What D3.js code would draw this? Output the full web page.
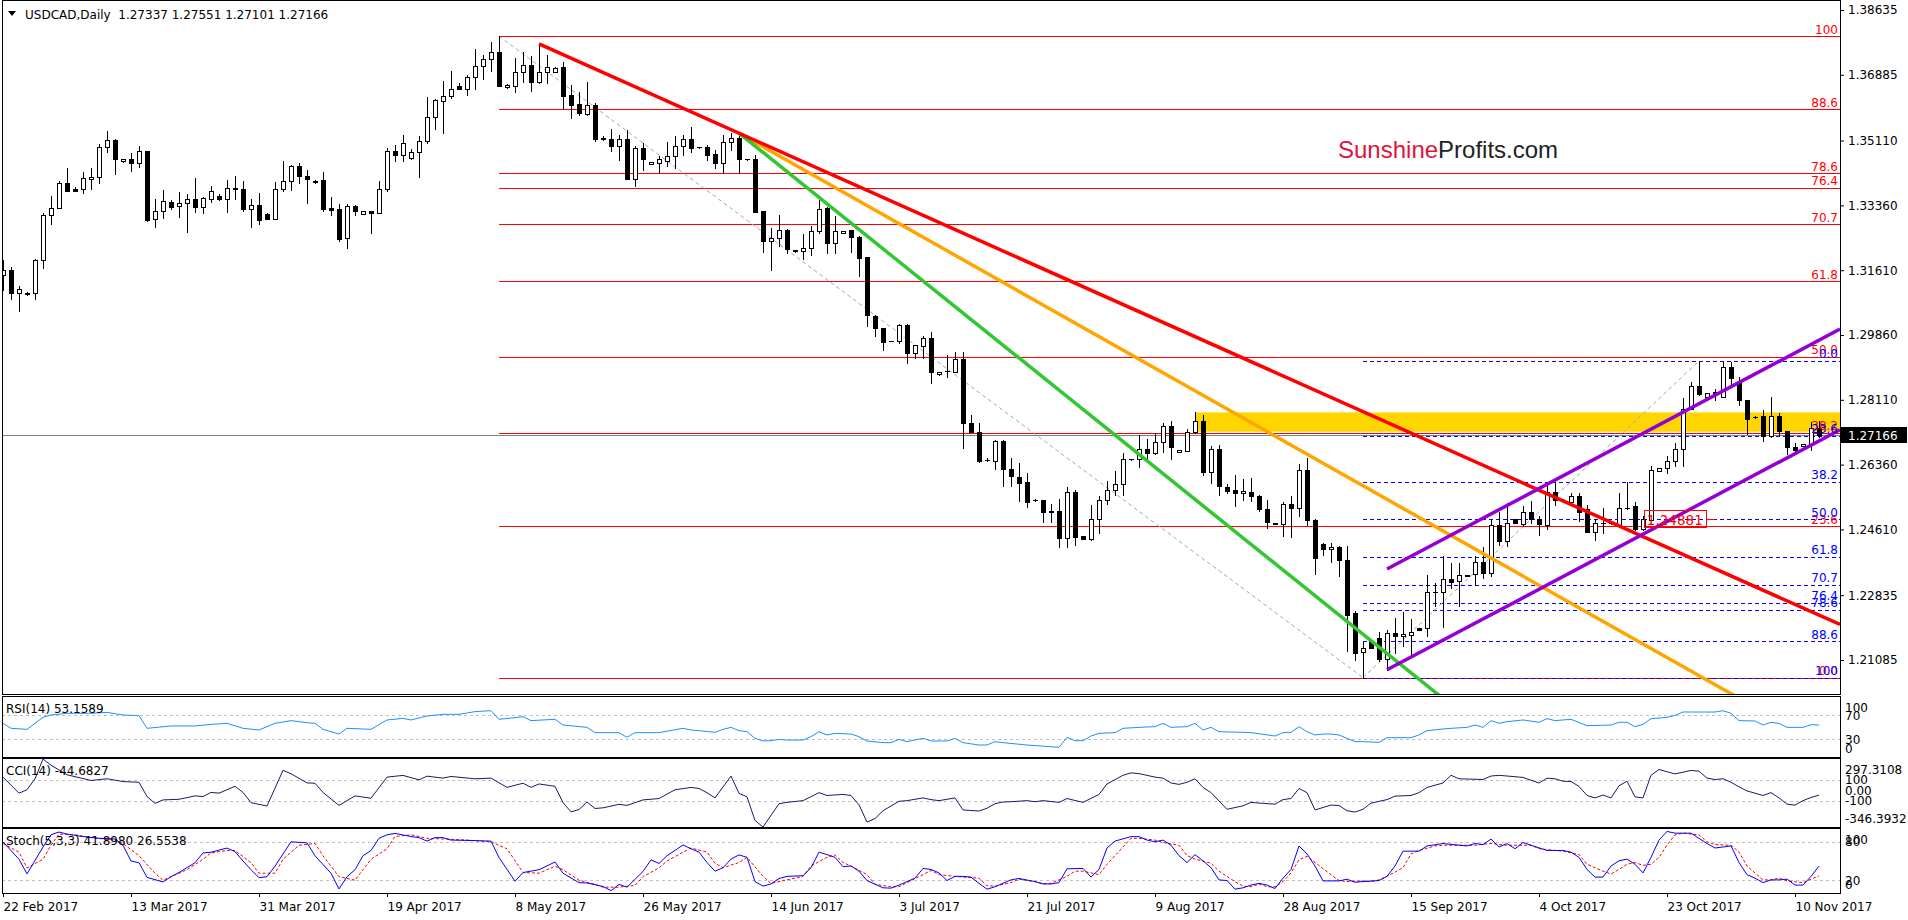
<!DOCTYPE html>
<html><head><meta charset="utf-8">
<script src="https://cdn.jsdelivr.net/npm/d3@7"></script>
<style>
html,body{margin:0;padding:0;background:#fff;overflow:hidden;}
svg{display:block;font-family:"DejaVu Sans",sans-serif;}
</style></head><body>
<svg id="c" width="1908" height="920"></svg>
<script>
// ---------- DATA ----------
const symbolTitle = "USDCAD,Daily";
const headerOHLC = ["1.27337","1.27551","1.27101","1.27166"];
// daily candles [open, high, low, close], bar 0 = 22 Feb 2017 (with Sunday bars)
const candles = [
[1.3148,1.3189,1.3107,1.3162],[1.3162,1.3169,1.3082,1.3100],[1.3100,1.3118,1.3052,1.3109],[1.3100,1.3102,1.3095,1.3097],
[1.3100,1.3191,1.3082,1.3189],[1.3189,1.3316,1.3166,1.3310],[1.3309,1.3360,1.3285,1.3328],[1.3328,1.3401,1.3328,1.3396],
[1.3396,1.3437,1.3375,1.3375],[1.3379,1.3385,1.3375,1.3375],[1.3379,1.3426,1.3370,1.3409],[1.3406,1.3437,1.3381,1.3413],
[1.3412,1.3501,1.3397,1.3493],[1.3493,1.3537,1.3481,1.3513],[1.3513,1.3516,1.3422,1.3462],[1.3455,1.3462,1.3452,1.3462],
[1.3461,1.3477,1.3430,1.3450],[1.3450,1.3496,1.3439,1.3482],[1.3482,1.3482,1.3295,1.3296],[1.3298,1.3352,1.3277,1.3322],
[1.3322,1.3377,1.3303,1.3349],[1.3344,1.3351,1.3325,1.3332],[1.3333,1.3372,1.3304,1.3342],[1.3342,1.3367,1.3263,1.3352],
[1.3352,1.3410,1.3319,1.3332],[1.3332,1.3358,1.3315,1.3356],[1.3354,1.3387,1.3346,1.3374],[1.3361,1.3367,1.3351,1.3352],
[1.3352,1.3405,1.3319,1.3382],[1.3382,1.3415,1.3353,1.3380],[1.3379,1.3401,1.3322,1.3327],[1.3327,1.3353,1.3277,1.3336],
[1.3337,1.3369,1.3285,1.3297],[1.3313,1.3316,1.3298,1.3300],[1.3300,1.3399,1.3300,1.3379],[1.3379,1.3457,1.3374,1.3401],
[1.3401,1.3444,1.3378,1.3441],[1.3441,1.3451,1.3397,1.3414],[1.3415,1.3432,1.3342,1.3408],[1.3403,1.3405,1.3397,1.3399],
[1.3404,1.3426,1.3322,1.3327],[1.3328,1.3359,1.3309,1.3324],[1.3326,1.3340,1.3240,1.3245],[1.3247,1.3340,1.3222,1.3333],
[1.3333,1.3338,1.3309,1.3322],[1.3312,1.3320,1.3312,1.3320],[1.3320,1.3320,1.3262,1.3315],[1.3315,1.3401,1.3315,1.3379],
[1.3379,1.3491,1.3374,1.3482],[1.3482,1.3498,1.3457,1.3472],[1.3472,1.3526,1.3457,1.3504],[1.3463,1.3488,1.3461,1.3479],
[1.3479,1.3523,1.3412,1.3509],[1.3509,1.3629,1.3504,1.3575],[1.3575,1.3624,1.3541,1.3621],[1.3617,1.3672,1.3531,1.3630],
[1.3630,1.3699,1.3627,1.3649],[1.3657,1.3666,1.3649,1.3649],[1.3651,1.3687,1.3635,1.3682],[1.3682,1.3758,1.3649,1.3711],
[1.3711,1.3743,1.3678,1.3730],[1.3730,1.3777,1.3700,1.3749],[1.3749,1.3793,1.3657,1.3659],[1.3655,1.3663,1.3652,1.3661],
[1.3659,1.3733,1.3643,1.3697],[1.3697,1.3751,1.3670,1.3715],[1.3715,1.3738,1.3645,1.3670],[1.3670,1.3772,1.3666,1.3697],
[1.3697,1.3741,1.3666,1.3710],[1.3697,1.3710,1.3697,1.3708],[1.3709,1.3724,1.3598,1.3632],[1.3634,1.3661,1.3573,1.3607],
[1.3609,1.3643,1.3581,1.3585],[1.3583,1.3669,1.3581,1.3606],[1.3606,1.3612,1.3511,1.3515],[1.3518,1.3522,1.3513,1.3516],
[1.3515,1.3541,1.3484,1.3496],[1.3496,1.3526,1.3459,1.3515],[1.3515,1.3540,1.3406,1.3408],[1.3406,1.3495,1.3387,1.3491],
[1.3492,1.3504,1.3432,1.3460],[1.3447,1.3452,1.3447,1.3452],[1.3450,1.3469,1.3427,1.3461],[1.3457,1.3508,1.3441,1.3468],
[1.3468,1.3523,1.3436,1.3495],[1.3495,1.3526,1.3472,1.3515],[1.3515,1.3547,1.3481,1.3492],[1.3493,1.3494,1.3492,1.3493],
[1.3494,1.3499,1.3459,1.3473],[1.3474,1.3486,1.3436,1.3451],[1.3451,1.3526,1.3424,1.3506],[1.3506,1.3531,1.3486,1.3518],
[1.3518,1.3531,1.3424,1.3462],[1.3461,1.3461,1.3459,1.3460],[1.3461,1.3472,1.3319,1.3319],[1.3321,1.3321,1.3211,1.3241],
[1.3241,1.3274,1.3161,1.3248],[1.3247,1.3310,1.3225,1.3269],[1.3270,1.3271,1.3207,1.3219],[1.3216,1.3216,1.3211,1.3214],
[1.3214,1.3259,1.3190,1.3220],[1.3220,1.3281,1.3202,1.3267],[1.3266,1.3351,1.3261,1.3325],[1.3328,1.3332,1.3207,1.3234],
[1.3234,1.3306,1.3207,1.3267],[1.3261,1.3267,1.3261,1.3267],[1.3270,1.3270,1.3211,1.3250],[1.3250,1.3253,1.3146,1.3195],
[1.3197,1.3197,1.3010,1.3039],[1.3037,1.3039,1.2984,1.3004],[1.3004,1.3004,1.2946,1.2966],[1.2971,1.2971,1.2969,1.2969],
[1.2971,1.3015,1.2964,1.3013],[1.3013,1.3015,1.2911,1.2937],[1.2937,1.2959,1.2923,1.2959],[1.2957,1.2983,1.2923,1.2977],
[1.2977,1.2995,1.2857,1.2887],[1.2881,1.2887,1.2878,1.2887],[1.2889,1.2932,1.2872,1.2889],[1.2887,1.2941,1.2887,1.2920],
[1.2920,1.2940,1.2680,1.2748],[1.2748,1.2769,1.2725,1.2725],[1.2725,1.2748,1.2642,1.2647],[1.2649,1.2653,1.2645,1.2649],
[1.2645,1.2703,1.2624,1.2700],[1.2700,1.2703,1.2579,1.2625],[1.2625,1.2653,1.2578,1.2604],[1.2602,1.2640,1.2539,1.2587],
[1.2588,1.2613,1.2521,1.2536],[1.2540,1.2542,1.2539,1.2540],[1.2540,1.2540,1.2482,1.2509],[1.2509,1.2531,1.2480,1.2510],
[1.2511,1.2542,1.2413,1.2437],[1.2437,1.2575,1.2413,1.2561],[1.2561,1.2567,1.2418,1.2440],[1.2443,1.2443,1.2434,1.2434],
[1.2434,1.2527,1.2433,1.2488],[1.2488,1.2551,1.2451,1.2540],[1.2540,1.2593,1.2531,1.2567],[1.2567,1.2620,1.2554,1.2584],
[1.2584,1.2667,1.2554,1.2650],[1.2650,1.2652,1.2649,1.2650],[1.2650,1.2716,1.2629,1.2677],[1.2677,1.2704,1.2649,1.2667],
[1.2667,1.2721,1.2665,1.2696],[1.2696,1.2748,1.2671,1.2740],[1.2740,1.2754,1.2652,1.2683],[1.2669,1.2676,1.2669,1.2676],
[1.2674,1.2731,1.2672,1.2723],[1.2723,1.2779,1.2721,1.2754],[1.2754,1.2770,1.2608,1.2617],[1.2617,1.2686,1.2587,1.2677],
[1.2677,1.2689,1.2554,1.2579],[1.2575,1.2584,1.2560,1.2566],[1.2567,1.2607,1.2524,1.2559],[1.2559,1.2596,1.2540,1.2564],
[1.2561,1.2599,1.2539,1.2552],[1.2552,1.2554,1.2512,1.2515],[1.2515,1.2540,1.2464,1.2480],[1.2478,1.2478,1.2475,1.2475],
[1.2475,1.2536,1.2442,1.2530],[1.2531,1.2551,1.2440,1.2518],[1.2518,1.2637,1.2497,1.2621],[1.2621,1.2654,1.2473,1.2487],
[1.2487,1.2488,1.2340,1.2383],[1.2422,1.2425,1.2392,1.2407],[1.2407,1.2425,1.2374,1.2413],[1.2413,1.2416,1.2334,1.2379],
[1.2379,1.2415,1.2134,1.2230],[1.2235,1.2241,1.2108,1.2128],[1.2131,1.2158,1.2061,1.2140],[1.2160,1.2160,1.2140,1.2140],
[1.2167,1.2185,1.2107,1.2110],[1.2110,1.2190,1.2082,1.2181],[1.2181,1.2221,1.2128,1.2172],[1.2172,1.2239,1.2146,1.2178],
[1.2175,1.2218,1.2119,1.2185],[1.2194,1.2195,1.2189,1.2190],[1.2194,1.2338,1.2172,1.2291],[1.2291,1.2316,1.2254,1.2293],
[1.2291,1.2388,1.2197,1.2326],[1.2326,1.2370,1.2302,1.2320],[1.2322,1.2370,1.2254,1.2338],[1.2336,1.2338,1.2334,1.2337],
[1.2340,1.2388,1.2311,1.2374],[1.2374,1.2413,1.2329,1.2344],[1.2344,1.2487,1.2334,1.2473],[1.2473,1.2509,1.2419,1.2431],
[1.2431,1.2532,1.2415,1.2478],[1.2490,1.2490,1.2478,1.2478],[1.2475,1.2524,1.2469,1.2509],[1.2509,1.2538,1.2479,1.2488],
[1.2488,1.2496,1.2446,1.2475],[1.2473,1.2586,1.2461,1.2563],[1.2563,1.2588,1.2527,1.2541],[1.2541,1.2543,1.2536,1.2538],
[1.2536,1.2559,1.2532,1.2550],[1.2550,1.2559,1.2485,1.2509],[1.2515,1.2527,1.2453,1.2455],[1.2455,1.2488,1.2433,1.2478],
[1.2478,1.2518,1.2451,1.2479],[1.2479,1.2481,1.2476,1.2478],[1.2473,1.2560,1.2467,1.2518],[1.2518,1.2590,1.2515,1.2519],
[1.2523,1.2536,1.2460,1.2461],[1.2461,1.2496,1.2460,1.2488],[1.2487,1.2631,1.2485,1.2622],[1.2620,1.2626,1.2620,1.2626],
[1.2626,1.2660,1.2613,1.2647],[1.2647,1.2694,1.2632,1.2677],[1.2677,1.2815,1.2632,1.2785],[1.2785,1.2860,1.2785,1.2847],
[1.2847,1.2916,1.2824,1.2827],[1.2818,1.2830,1.2818,1.2830],[1.2830,1.2839,1.2811,1.2833],[1.2818,1.2914,1.2818,1.2899],
[1.2899,1.2914,1.2851,1.2869],[1.2857,1.2872,1.2797,1.2811],[1.2811,1.2811,1.2719,1.2760],[1.2764,1.2766,1.2762,1.2764],
[1.2766,1.2784,1.2701,1.2712],[1.2712,1.2818,1.2710,1.2768],[1.2768,1.2775,1.2716,1.2728],[1.2728,1.2728,1.2665,1.2683],
[1.2683,1.2695,1.2671,1.2676],[1.2685,1.2691,1.2685,1.2691],[1.2691,1.2752,1.2676,1.2734],[1.27337,1.27551,1.27101,1.27166]
];
const dateLabels = ["22 Feb 2017","13 Mar 2017","31 Mar 2017","19 Apr 2017","8 May 2017","26 May 2017","14 Jun 2017","3 Jul 2017","21 Jul 2017","9 Aug 2017","28 Aug 2017","15 Sep 2017","4 Oct 2017","23 Oct 2017","10 Nov 2017"];
const dateIdx = [0,16,32,48,64,80,96,112,128,144,160,176,192,208,224];
const priceTicks = [1.38635,1.36885,1.35110,1.33360,1.31610,1.29860,1.28110,1.26360,1.24610,1.22835,1.21085];
const lastPrice = 1.27166;
const fibLevels = [0,23.6,38.2,50,61.8,70.7,76.4,78.6,88.6,100];
const fibLabels = ["0.0","23.6","38.2","50.0","61.8","70.7","76.4","78.6","88.6","100"];
const redFib = [62, 1.3793, 1.2061];   // anchor bar, 100 level, 0 level
const blueFib = [170, 1.2061, 1.2916]; // anchor bar, 100 level, 0 level
const redFibBase = [[62,1.3793],[170,1.2061]];
const blueFibBase = [[170,1.2061],[212,1.2916]];
const zone = [149, 1.2725, 1.2777];
const redTrend = [[67,1.3772],[92,1.3531]];
const orangeTrend = [[92,1.3531],[170,1.2579]];
const greenTrend = [[92,1.3531],[170,1.2178]];
const purpleLow = [[173,1.2082],[200,1.2391]];
const purpleHigh = [[173,1.2354],[200,1.2663]];
const priceLabel = [205.1, 1.24881, "1.24881"];
const brandA = "Sunshine", brandB = "Profits.com";

const rsiTitle = "RSI(14) 53.1589";
const rsi = [[0,56.1],[1,47.8],[3,46.1],[5,66.1],[6,70],[8,72.8],[11,72.8],[13,74.4],[15,70],[17,68.9],[18,47.8],[21,51.7],[24,51.7],[26,54.4],[28,56.1],[30,47.8],[32,45],[34,56.1],[36,60.6],[38,57.2],[39,56.1],[40,46.1],[42,38.3],[43,47.8],[46,46.1],[48,61.7],[50,64.4],[51,61.7],[53,68.3],[55,71.1],[57,71.1],[59,75.6],[61,77.2],[62,62.8],[65,67.2],[66,60.6],[69,62.8],[70,53.3],[73,49.4],[74,40.6],[77,40.6],[78,32.8],[79,40.6],[82,40.6],[85,47.8],[86,45],[87,43.9],[89,41.1],[90,46.1],[91,49.4],[92,43.9],[93,42.2],[94,31.1],[95,26.7],[96,27.2],[97,29.4],[98,28.3],[100,28.3],[101,33.9],[102,42.2],[103,36.7],[104,39.4],[106,38.3],[107,33.9],[108,26.7],[110,23.9],[111,23.9],[112,29.4],[113,25.6],[115,31.1],[116,26.7],[118,26.7],[119,31.1],[120,23.9],[122,20],[123,20],[124,25.6],[125,23.9],[128,20],[132,16.1],[133,32.8],[134,27.2],[135,27.2],[136,35],[137,39.4],[139,40.6],[140,47.8],[142,49.4],[144,50.6],[145,56.1],[146,49.4],[148,50.6],[149,56.1],[150,45],[151,49.4],[152,42.2],[155,41.1],[156,40.6],[159,35],[160,40.6],[161,41.1],[162,50.6],[163,42.2],[164,36.7],[165,38.3],[166,38.3],[167,36.7],[169,25.6],[170,25.6],[172,24.4],[173,32.2],[176,32.2],[177,36.7],[178,43.9],[180,46.7],[181,47.8],[183,49.4],[184,53.3],[185,49.4],[186,60.6],[187,56.1],[188,58.9],[190,61.7],[192,57.8],[193,63.9],[194,60.6],[196,62.8],[198,52.2],[201,53.3],[202,57.8],[203,57.8],[204,50.6],[205,54.4],[206,63.9],[208,66.1],[209,69.4],[210,75],[211,75],[214,75],[215,77.2],[216,72.8],[217,60.6],[219,60],[220,53.3],[221,57.8],[222,56.1],[223,49.4],[225,49.4],[226,53.9],[227,53.16]];
const rsiLevels = [100,70,30,0];
const rsiGrid = [70,30];

const cciTitle = "CCI(14) -44.6827";
const cci = [[0,126],[2,-26],[3,6],[4,110],[5,297.31],[6,239],[8,148],[11,94],[13,110],[15,84],[17,77],[18,-58],[19,-123],[20,-90],[22,-84],[24,-52],[25,-58],[26,-19],[27,-26],[29,39],[30,-19],[31,-116],[33,-148],[35,190],[36,158],[38,71],[39,68],[40,-19],[42,-142],[44,-52],[46,-74],[48,126],[50,142],[52,100],[53,135],[55,116],[56,132],[59,110],[61,116],[63,29],[65,68],[66,29],[67,61],[69,39],[70,-116],[71,-203],[72,-181],[73,-110],[74,-171],[75,-165],[77,-132],[78,-142],[80,-90],[82,-77],[83,-35],[84,6],[86,28],[87,18],[88,-21],[89,-71],[91,136],[92,-28],[93,-61],[94,-284],[95,-346.39],[97,-126],[98,-113],[100,-97],[102,-21],[103,-48],[105,-38],[106,-48],[107,-136],[108,-300],[109,-267],[110,-192],[112,-103],[113,-97],[115,-71],[116,-87],[117,-97],[119,-71],[120,-185],[122,-195],[123,-169],[124,-126],[125,-110],[126,-107],[128,-97],[129,-107],[130,-97],[132,-113],[133,-77],[135,-113],[137,-38],[138,61],[140,143],[141,166],[142,159],[144,126],[145,116],[146,70],[147,57],[148,77],[149,110],[150,28],[151,-21],[153,-179],[155,-146],[156,-113],[157,-120],[159,-130],[160,-87],[161,-77],[162,18],[163,-21],[164,-185],[166,-139],[167,-143],[168,-192],[169,-205],[170,-179],[171,-120],[173,-87],[174,-54],[176,-48],[177,-21],[178,28],[180,70],[181,143],[182,110],[185,103],[186,136],[187,143],[190,123],[192,70],[193,116],[194,110],[195,87],[196,84],[197,38],[198,-48],[199,-71],[200,-44],[201,-71],[202,44],[203,87],[204,-61],[205,-71],[206,143],[207,198],[209,156],[211,189],[212,182],[213,116],[214,103],[215,110],[216,77],[217,34],[218,-5],[220,-48],[221,-21],[222,-71],[223,-130],[224,-139],[225,-97],[226,-67],[227,-44.68]];
const cciRange = [-346.3932, 297.3108];
const cciLevels = [297.3108,100,0,-100,-346.3932];
const cciLevelLabels = ["297.3108","100","0.00","-100","-346.3932"];
const cciGrid = [100,-100];

const stochTitle = "Stoch(5,3,3) 41.8980 26.5538";
const stochK = [[0,80],[2,52.7],[3,29.9],[5,71.8],[6,90.9],[7,95.3],[8,92],[10,88.2],[12,85.5],[14,84.4],[15,74.6],[16,50],[17,47.3],[18,24.4],[20,17.3],[21,25.5],[22,32],[24,47.3],[25,62.6],[26,63.7],[28,70.2],[29,64.7],[30,50],[31,36.4],[32,23.9],[33,25.5],[34,41.9],[36,80],[38,78.4],[39,58.2],[41,30.9],[42,6.4],[43,25.5],[44,36.4],[45,58.2],[46,66.4],[47,85.5],[48,90.9],[49,93.1],[51,88.2],[52,86.5],[53,81.1],[54,86.5],[55,86.5],[56,82.7],[58,82.2],[61,81.1],[62,55.5],[64,18.4],[65,32],[67,36.4],[69,48.4],[70,30.9],[72,16.2],[73,15.7],[75,10.2],[76,3.7],[77,13.5],[78,9.1],[80,33.7],[81,51.7],[82,46.2],[83,58.2],[85,75],[86,69.2],[87,63.8],[88,47.6],[89,34.1],[90,39.5],[91,53],[92,59.5],[93,55.7],[94,17.8],[95,10.8],[96,14.1],[97,22.7],[98,26],[100,27],[101,39.5],[102,63.8],[103,60],[104,55.7],[105,41.1],[106,42.2],[107,34.1],[108,19.5],[110,8.1],[111,7.6],[112,12.4],[114,23.2],[115,38.4],[116,36.8],[117,31.4],[118,19.5],[119,26],[120,26],[121,24.9],[122,15.1],[123,6],[124,9.7],[126,20.5],[127,22.7],[129,17.8],[130,14.1],[131,14.1],[132,16.2],[133,37.8],[135,38.4],[136,24.9],[137,36.8],[138,70.3],[139,81.1],[141,88.1],[142,88.1],[143,82.7],[144,80],[145,82.7],[146,74.6],[147,58.4],[148,47.6],[149,60],[150,50.3],[151,39.5],[152,20.5],[153,19.5],[154,6],[155,8.1],[156,12.4],[157,15.1],[158,12.4],[159,7],[160,23.2],[161,36.8],[162,73.5],[163,61.1],[164,42.2],[165,18.9],[167,18.9],[168,21.6],[169,16.8],[170,17.8],[172,19.5],[173,26],[174,42.2],[175,65.4],[177,65.4],[178,73.5],[180,77.3],[183,73.5],[184,77.3],[185,75.7],[186,84.3],[187,71.9],[188,77.3],[189,69.2],[190,78.9],[191,74.6],[193,66.5],[195,66.5],[196,63.8],[197,55.7],[198,36.8],[199,24.9],[200,24.9],[201,42.2],[202,50.3],[203,53],[204,44.9],[205,31.4],[206,55.7],[207,82.7],[208,96.2],[209,93.5],[211,93.5],[212,85.4],[213,77.3],[214,70.3],[216,73.5],[217,47.6],[218,28.7],[219,23.2],[220,16.2],[221,20.5],[222,20.5],[223,21.6],[224,12.4],[225,12.4],[226,26],[227,41.9]];
const stochD = [[0,77.3],[2,63.7],[3,39.1],[5,52.7],[6,74.6],[7,92],[9,90.9],[11,86.5],[14,82.7],[15,77.3],[17,58.2],[19,30.9],[20,20],[21,25.5],[23,36.4],[25,52.7],[26,62.6],[28,66.4],[29,66.4],[31,47.3],[32,30.9],[34,30.9],[35,52.7],[37,74.6],[39,77.3],[40,58.2],[42,25.5],[44,20],[45,36.4],[46,52.7],[48,69.1],[49,88.2],[51,90.9],[53,85.5],[55,84.4],[58,82.7],[61,80],[63,69.1],[65,32],[67,30.9],[69,41.9],[70,36.4],[72,20],[74,13.5],[75,9.1],[77,9.1],[79,11.9],[80,25.5],[82,39.1],[83,50],[85,63.7],[86,70.3],[88,63.8],[89,46.5],[90,39.5],[92,47.6],[93,55.7],[95,26],[96,15.1],[97,17.8],[99,23.2],[100,26],[101,42.2],[103,55.7],[104,59.5],[105,47.6],[106,42.2],[108,28.7],[109,13.5],[111,9.7],[112,9.7],[113,16.2],[115,28.7],[116,35.1],[117,28.7],[119,26],[120,24.9],[122,23.2],[123,11.4],[124,10.8],[126,16.2],[127,21.6],[129,17.8],[130,14.6],[131,15.1],[133,26],[134,34.1],[135,34.1],[137,28.7],[138,44.9],[140,71.9],[141,85.4],[142,85.4],[144,82.7],[145,78.9],[147,74.6],[148,58.4],[149,53],[151,46.5],[152,34.1],[154,17.8],[155,10.8],[156,9.7],[157,14.1],[158,9.7],[159,9.7],[160,17.8],[161,31.4],[162,51.9],[163,57.3],[164,47.6],[166,28.7],[167,19.5],[168,17.8],[170,18.9],[171,17.8],[172,20.5],[173,26],[175,39.5],[176,61.1],[177,66.5],[179,73.5],[180,74.6],[182,74.6],[184,74.6],[185,76.2],[186,77.3],[188,74.6],[189,74.6],[191,74.6],[192,69.2],[194,66.5],[195,65.4],[197,60],[198,44.9],[200,34.1],[201,29.7],[202,36.8],[203,44.9],[204,47.6],[205,43.2],[206,44.9],[207,55.7],[208,74.6],[209,90.8],[210,93.5],[212,90.8],[213,80],[214,75.7],[216,74.6],[217,63.8],[218,42.2],[220,20.5],[221,20.5],[222,23.2],[223,19],[225,16.2],[226,21.6],[227,26.55]];
const stochLevels = [100,80,20,0];
const stochGrid = [80,20];

// ---------- DRAWING ----------
const svg = d3.select("#c");
const FONT = "'DejaVu Sans', sans-serif";
const RIGHT = 1840, LEFT = 2;
svg.append("rect").attr("width",1908).attr("height",920).attr("fill","#fff");

const x = d3.scaleLinear().domain([-0.125, 229.625]).range([LEFT, RIGHT]);
const y = d3.scaleLinear().domain([1.21085, 1.38635]).range([660, 10]);
const crisp = v => Math.round(v) + 0.5;

const defs = svg.append("defs");
function clip(id, top, bottom){
  defs.append("clipPath").attr("id", id).append("rect")
    .attr("x", LEFT+1).attr("y", top).attr("width", RIGHT-LEFT-1).attr("height", bottom-top);
  return "url(#"+id+")";
}
const main = svg.append("g").attr("clip-path", clip("cm", 1, 694));

// yellow zone
main.append("rect").attr("x", x(zone[0])).attr("y", y(zone[2]))
  .attr("width", RIGHT - x(zone[0])).attr("height", y(zone[1]) - y(zone[2])).attr("fill", "#FFD500");

// fib levels
function fibPrice(f, L){ return f[2] + (f[1]-f[2]) * L/100; }
fibLevels.forEach(L => {
  const yy = crisp(y(fibPrice(redFib, L)));
  main.append("line").attr("x1", x(redFib[0])).attr("x2", RIGHT).attr("y1", yy).attr("y2", yy)
    .attr("stroke", "#FF0000").attr("stroke-width", 1);
});
fibLevels.forEach(L => {
  const yy = crisp(y(fibPrice(blueFib, L)));
  main.append("line").attr("x1", x(blueFib[0])).attr("x2", RIGHT).attr("y1", yy).attr("y2", yy)
    .attr("stroke", "#0000FF").attr("stroke-width", 1).attr("stroke-dasharray", "4,3");
});
// current price line
{
  const yy = crisp(y(lastPrice));
  main.append("line").attr("x1", LEFT).attr("x2", RIGHT).attr("y1", yy).attr("y2", yy)
    .attr("stroke", "#7f7f7f").attr("stroke-width", 1);
}
// fib baselines
[redFibBase, blueFibBase].forEach(b => {
  main.append("line").attr("x1", x(b[0][0])).attr("y1", y(b[0][1])).attr("x2", x(b[1][0])).attr("y2", y(b[1][1]))
    .attr("stroke", "#A8A8A8").attr("stroke-width", 1).attr("stroke-dasharray", "4,3");
});

// candles
const cg = main.append("g");
candles.forEach((c, i) => {
  const [o, h, l, cl] = c;
  const cx = crisp(x(i));
  cg.append("line").attr("x1", cx).attr("x2", cx).attr("y1", Math.round(y(h))).attr("y2", Math.round(y(l))+1)
    .attr("stroke", "#000").attr("stroke-width", 1);
  const yt = Math.round(y(Math.max(o, cl))), yb = Math.round(y(Math.min(o, cl)));
  if (yb - yt < 1) {
    cg.append("line").attr("x1", cx-2.5).attr("x2", cx+2.5).attr("y1", yt+0.5).attr("y2", yt+0.5)
      .attr("stroke", "#000").attr("stroke-width", 1);
  } else {
    cg.append("rect").attr("x", cx-2).attr("y", yt+0.5).attr("width", 4).attr("height", yb-yt)
      .attr("fill", cl >= o ? "#fff" : "#000").attr("stroke", "#000").attr("stroke-width", 1);
  }
});

// trend lines (rays to the right)
function ray(pts, color, w){
  const [[i1,p1],[i2,p2]] = pts;
  const iEnd = x.domain()[1];
  const pEnd = p1 + (p2-p1) * (iEnd - i1) / (i2 - i1);
  main.append("line").attr("x1", x(i1)).attr("y1", y(p1)).attr("x2", x(iEnd)).attr("y2", y(pEnd))
    .attr("stroke", color).attr("stroke-width", w);
}
ray(orangeTrend, "#FFA500", 3.5);
ray(greenTrend, "#33C633", 3.5);
ray(redTrend, "#FF0000", 3.5);
ray(purpleLow, "#9400D3", 3.5);
ray(purpleHigh, "#9400D3", 3.5);

// price label object
{
  const px = x(priceLabel[0]), py = y(priceLabel[1]);
  svg.append("text").attr("x", px+3).attr("y", py+5.5).attr("fill", "#FF0000")
    .attr("font-family", FONT).attr("font-size", 14).attr("textLength", 56).attr("lengthAdjust", "spacingAndGlyphs")
    .text(priceLabel[2]);
  svg.append("rect").attr("x", crisp(px)).attr("y", crisp(py-9)).attr("width", 62).attr("height", 17)
    .attr("fill", "none").attr("stroke", "#FF0000").attr("stroke-width", 1);
  svg.append("line").attr("x1", crisp(px)+62).attr("x2", crisp(px)+71).attr("y1", crisp(py)).attr("y2", crisp(py))
    .attr("stroke", "#FF0000").attr("stroke-width", 1);
}

// fib labels
const lab = svg.append("g").attr("font-family", FONT).attr("font-size", 12).attr("text-anchor", "end");
fibLevels.forEach((L, k) => {
  lab.append("text").attr("x", RIGHT-2).attr("y", y(fibPrice(redFib, L)) - 2.5).attr("fill", "#FF0000").text(fibLabels[k]);
});
fibLevels.forEach((L, k) => {
  lab.append("text").attr("x", RIGHT-2).attr("y", y(fibPrice(blueFib, L)) - 2.5).attr("fill", "#0000FF").text(fibLabels[k]);
});

// watermark
{
  const t = svg.append("text").attr("x", 1338).attr("y", 158).attr("font-family", "'Liberation Sans', Arial, sans-serif")
    .attr("font-size", 24);
  t.append("tspan").attr("fill", "#DC143C").text(brandA);
  t.append("tspan").attr("fill", "#222").text(brandB);
}

// header
svg.append("path").attr("d", "M8,11 L16,11 L12,16 Z").attr("fill", "#000");
svg.append("text").attr("x", 25).attr("y", 19).attr("font-family", FONT).attr("font-size", 12)
  .style("white-space", "pre").text(symbolTitle + "  " + headerOHLC.join(" "));

// price axis
const ya = svg.append("g").attr("transform", "translate(" + RIGHT + ",0)")
  .call(d3.axisRight(y).tickValues(priceTicks).tickFormat(d3.format(".5f")).tickSize(4).tickSizeOuter(0));
ya.select(".domain").remove();
ya.selectAll("text").attr("font-family", FONT).attr("font-size", 12).attr("fill", "#000").attr("x", 8);
ya.selectAll("line").attr("stroke", "#000");

// current price box
{
  const yy = y(lastPrice);
  svg.append("rect").attr("x", RIGHT+1).attr("y", Math.round(yy)-8).attr("width", 66).attr("height", 16).attr("fill", "#000");
  svg.append("text").attr("x", RIGHT+8).attr("y", Math.round(yy)+4.5).attr("fill", "#fff")
    .attr("font-family", FONT).attr("font-size", 12).text(lastPrice.toFixed(5));
}

// indicator panels
function panel(top, bottom, domain, series, gridVals, levelVals, levelLabels, title, id){
  const ys = d3.scaleLinear().domain(domain).range([bottom, top]);
  const g = svg.append("g").attr("clip-path", clip(id, top, bottom));
  gridVals.forEach(v => {
    const yy = crisp(ys(v));
    g.append("line").attr("x1", LEFT).attr("x2", RIGHT).attr("y1", yy).attr("y2", yy)
      .attr("stroke", "#C0C0C0").attr("stroke-width", 1).attr("stroke-dasharray", "3,3");
  });
  series.forEach(s => {
    const line = d3.line().x(d => x(d[0])).y(d => ys(d[1]));
    const p = g.append("path").attr("d", line(s.data)).attr("fill", "none").attr("stroke", s.color).attr("stroke-width", 1);
    if (s.dash) p.attr("stroke-dasharray", s.dash);
  });
  svg.append("text").attr("x", 6).attr("y", top + 16).attr("font-family", FONT).attr("font-size", 12).attr("fill", "#000").text(title);
  levelVals.forEach((v, k) => {
    const yy = Math.max(top + 10, Math.min(bottom - 9, ys(v)));
    svg.append("text").attr("x", RIGHT + 5).attr("y", yy + 4.5).attr("font-family", FONT).attr("font-size", 12)
      .attr("fill", "#000").text(levelLabels[k]);
  });
  svg.append("rect").attr("x", LEFT+0.5).attr("y", top-0.5).attr("width", RIGHT-LEFT).attr("height", bottom-top+1)
    .attr("fill", "none").attr("stroke", "#000").attr("stroke-width", 1);
}
panel(697, 757, [0,100], [{data: rsi, color: "#1E90FF"}], rsiGrid, rsiLevels, rsiLevels.map(String), rsiTitle, "cr");
panel(759, 827, cciRange, [{data: cci, color: "#191970"}], cciGrid, cciLevels, cciLevelLabels, cciTitle, "cc");
panel(829, 893, [0,100], [{data: stochD, color: "#FF0000", dash: "3,2"}, {data: stochK, color: "#0000FF"}], stochGrid, stochLevels, stochLevels.map(String), stochTitle, "cs");

// main border
svg.append("rect").attr("x", LEFT+0.5).attr("y", 0.5).attr("width", RIGHT-LEFT).attr("height", 694)
  .attr("fill", "none").attr("stroke", "#000").attr("stroke-width", 1);

// date axis
const xa = svg.append("g").attr("transform", "translate(0,893)")
  .call(d3.axisBottom(x).tickValues(dateIdx).tickFormat(d => dateLabels[dateIdx.indexOf(d)]).tickSize(4).tickSizeOuter(0));
xa.select(".domain").remove();
xa.selectAll("line").attr("stroke", "#000");
xa.selectAll("text").attr("font-family", FONT).attr("font-size", 12).attr("fill", "#000")
  .attr("text-anchor", "start").attr("x", 0).attr("y", 9).attr("dy", "0.71em");
</script>
</body></html>
